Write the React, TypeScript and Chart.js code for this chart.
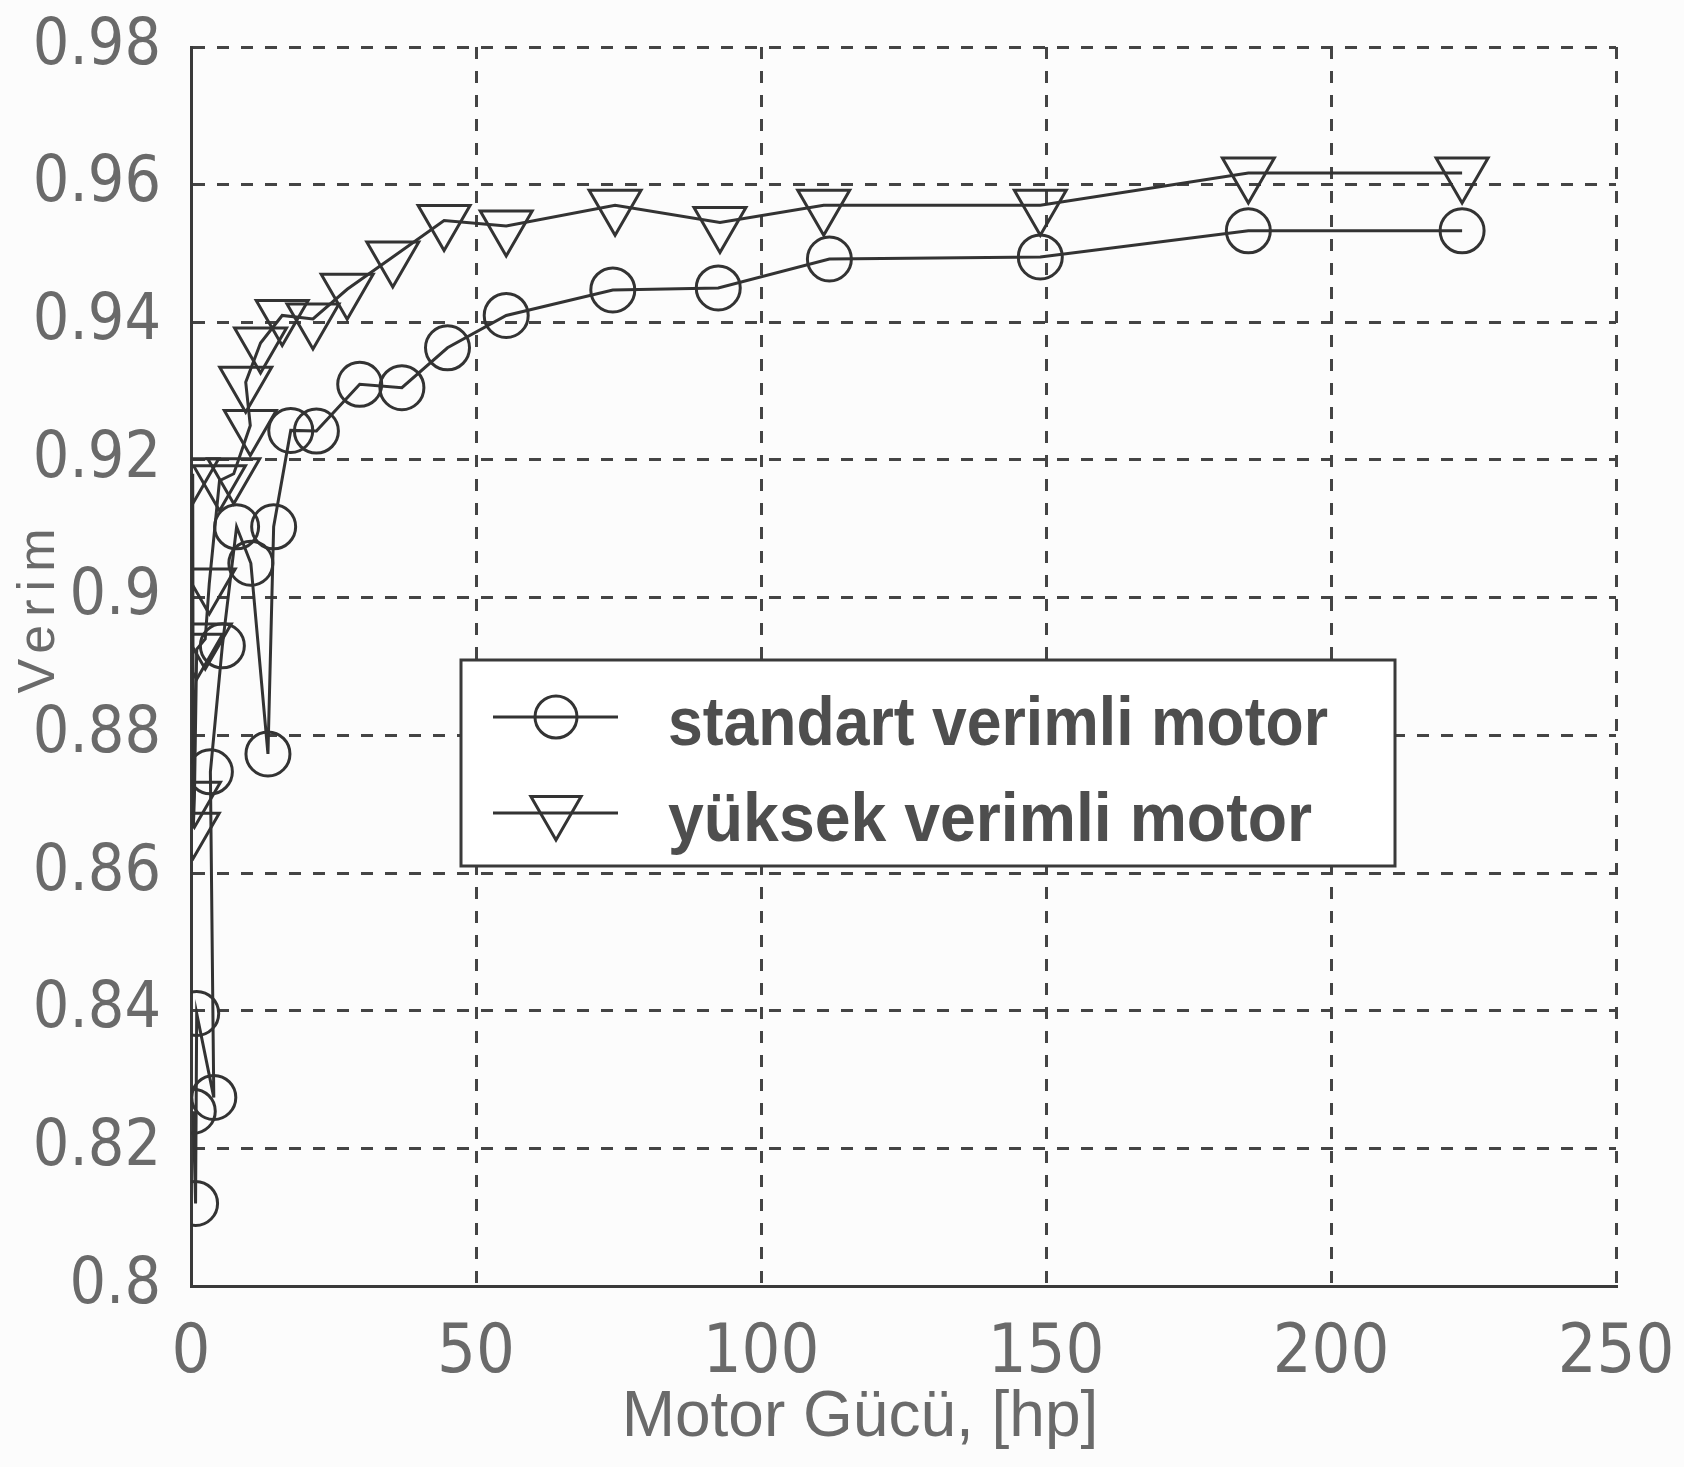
import React, { useEffect, useRef } from 'react';
import { Chart, registerables } from 'chart.js';

Chart.register(...registerables);

// ---- data ----
const stdPower = [0.4, 0.8, 1.0, 4.0, 3.4, 5.5, 8.0, 10.5, 13.5, 14.5, 17.5, 22, 29.6, 37, 45, 55.3, 74, 92.5, 112, 149, 185.5, 223];
const stdEff = [0.8254, 0.812, 0.8396, 0.8274, 0.8747, 0.893, 0.9103, 0.905, 0.8773, 0.9103, 0.9243, 0.9242, 0.931, 0.9305, 0.9363, 0.941, 0.9447, 0.945, 0.9492, 0.9495, 0.9533, 0.9533];

const highPower = [0.3, 0.4, 0.6, 1.0, 2.5, 3.2, 5.0, 7.5, 10.4, 9.6, 12.2, 16, 21.4, 27.4, 35.4, 44.4, 55.3, 74.4, 92.8, 111, 149, 185.5, 223];
const highEff = [0.918, 0.8665, 0.871, 0.8925, 0.894, 0.902, 0.917, 0.918, 0.925, 0.9313, 0.937, 0.941, 0.9405, 0.9448, 0.9495, 0.9548, 0.954, 0.957, 0.9545, 0.957, 0.957, 0.9617, 0.9617];

const seriesLabels = ['standart verimli motor', 'yüksek verimli motor'];
const xTickValues = [0, 50, 100, 150, 200, 250];
const yTickValues = [0.8, 0.82, 0.84, 0.86, 0.88, 0.9, 0.92, 0.94, 0.96, 0.98];
const xTitle = 'Motor Gücü, [hp]';
const yTitle = 'Verim';

const W = 1684;
const H = 1467;
const LINE = '#333333';
const GRID = '#444444';
const TICK = '#6a6a6a';
const TEXT = '#4e4e4e';
const BG = '#fcfcfc';

const TICK_FONT = '"Liberation Sans Narrow", "DejaVu Sans Condensed", sans-serif';
const TEXT_FONT = '"Liberation Sans", Arial, sans-serif';

function drawCircle(ctx: CanvasRenderingContext2D, x: number, y: number, r: number) {
  ctx.beginPath();
  ctx.arc(x, y, r, 0, Math.PI * 2);
  ctx.stroke();
}

function drawTriDown(ctx: CanvasRenderingContext2D, x: number, y: number, r: number) {
  ctx.beginPath();
  ctx.moveTo(x, y + r);
  ctx.lineTo(x - r * Math.sin(Math.PI / 3), y - r / 2);
  ctx.lineTo(x + r * Math.sin(Math.PI / 3), y - r / 2);
  ctx.closePath();
  ctx.stroke();
}

const overlayPlugin = {
  id: 'overlay',
  beforeDraw(chart: any) {
    const ctx = chart.ctx as CanvasRenderingContext2D;
    ctx.save();
    ctx.fillStyle = BG;
    ctx.fillRect(0, 0, chart.width, chart.height);
    ctx.restore();
  },
  afterDraw(chart: any) {
    const ctx = chart.ctx as CanvasRenderingContext2D;
    // axis titles
    ctx.save();
    ctx.fillStyle = TICK;
    ctx.font = `64px ${TEXT_FONT}`;
    ctx.textAlign = 'center';
    ctx.textBaseline = 'alphabetic';
    ctx.fillText(xTitle, 860, 1436);
    ctx.restore();

    ctx.save();
    ctx.fillStyle = TICK;
    ctx.translate(54, 607);
    ctx.rotate(-Math.PI / 2);
    ctx.font = `52px ${TEXT_FONT}`;
    ctx.textAlign = 'center';
    ctx.textBaseline = 'alphabetic';
    (ctx as any).letterSpacing = '8px';
    ctx.fillText(yTitle, 0, 0);
    ctx.restore();

    // legend box
    const bx = 461, by = 660, bw = 934, bh = 206;
    ctx.save();
    ctx.fillStyle = '#ffffff';
    ctx.fillRect(bx, by, bw, bh);
    ctx.strokeStyle = '#3a3a3a';
    ctx.lineWidth = 3;
    ctx.strokeRect(bx, by, bw, bh);

    const rows = [717, 813];
    const targets = [660, 644];
    rows.forEach((ry, i) => {
      ctx.strokeStyle = LINE;
      ctx.lineWidth = 3;
      ctx.beginPath();
      ctx.moveTo(493, ry);
      ctx.lineTo(618, ry);
      ctx.stroke();
      if (i === 0) drawCircle(ctx, 556, ry, 21);
      else drawTriDown(ctx, 556, ry - 2, 29);

      ctx.fillStyle = TEXT;
      ctx.font = `bold 68px ${TEXT_FONT}`;
      ctx.textAlign = 'left';
      ctx.textBaseline = 'alphabetic';
      const label = seriesLabels[i];
      const m = ctx.measureText(label).width;
      ctx.save();
      ctx.translate(668, ry + 28);
      ctx.scale(targets[i] / m, 1);
      ctx.fillText(label, 0, 0);
      ctx.restore();
    });
    ctx.restore();
  },
};

const zeroPad = (s: any) => {
  s.paddingTop = 0;
  s.paddingBottom = 0;
  s.paddingLeft = 0;
  s.paddingRight = 0;
};

export default function App() {
  const ref = useRef<HTMLCanvasElement | null>(null);

  useEffect(() => {
    if (!ref.current) return;
    const stdData = stdPower.map((x, i) => ({ x, y: stdEff[i] }));
    const highData = highPower.map((x, i) => ({ x, y: highEff[i] }));

    const chart = new Chart(ref.current, {
      type: 'line',
      data: {
        datasets: [
          {
            label: seriesLabels[0],
            data: stdData,
            borderColor: LINE,
            borderWidth: 3,
            pointStyle: 'circle',
            pointRadius: 22,
            pointBorderWidth: 3,
            pointBorderColor: LINE,
            pointBackgroundColor: 'rgba(0,0,0,0)',
            tension: 0,
            fill: false,
          },
          {
            label: seriesLabels[1],
            data: highData,
            borderColor: LINE,
            borderWidth: 3,
            pointStyle: 'triangle',
            pointRotation: 180,
            pointRadius: 30,
            pointBorderWidth: 3,
            pointBorderColor: LINE,
            pointBackgroundColor: 'rgba(0,0,0,0)',
            tension: 0,
            fill: false,
          },
        ],
      },
      options: {
        responsive: false,
        animation: false,
        devicePixelRatio: 1,
        layout: { padding: { left: 0, top: 47, right: 68, bottom: 0 } },
        plugins: {
          legend: { display: false },
          tooltip: { enabled: false },
          title: { display: false },
        },
        scales: {
          x: {
            type: 'linear',
            min: 0,
            max: 250,
            afterFit: (s: any) => { s.height = 181; zeroPad(s); },
            afterBuildTicks: (s: any) => { s.ticks = xTickValues.map((v) => ({ value: v })); },
            grid: { color: GRID, lineWidth: 3, drawTicks: false },
            border: { display: true, color: '#3a3a3a', width: 3, dash: [12, 12] },
            ticks: {
              color: TICK,
              font: { family: TICK_FONT, size: 68 },
              padding: 28,
              maxRotation: 0,
              callback: (v: any) => String(v),
            },
          },
          y: {
            type: 'linear',
            min: 0.8,
            max: 0.98,
            afterFit: (s: any) => { s.width = 191; zeroPad(s); },
            afterBuildTicks: (s: any) => { s.ticks = yTickValues.map((v) => ({ value: v })); },
            grid: { color: GRID, lineWidth: 3, drawTicks: false },
            border: { display: true, color: '#3a3a3a', width: 3, dash: [12, 12] },
            ticks: {
              color: TICK,
              font: { family: TICK_FONT, size: 64 },
              padding: 30,
              callback: (v: any) => String(Number(Number(v).toFixed(2))),
            },
          },
        },
      },
      plugins: [overlayPlugin],
    });

    return () => chart.destroy();
  }, []);

  return (
    <div style={{ position: 'absolute', left: 0, top: 0, width: W, height: H, background: BG }}>
      <canvas ref={ref} width={W} height={H} style={{ display: 'block', width: W, height: H }} />
    </div>
  );
}
